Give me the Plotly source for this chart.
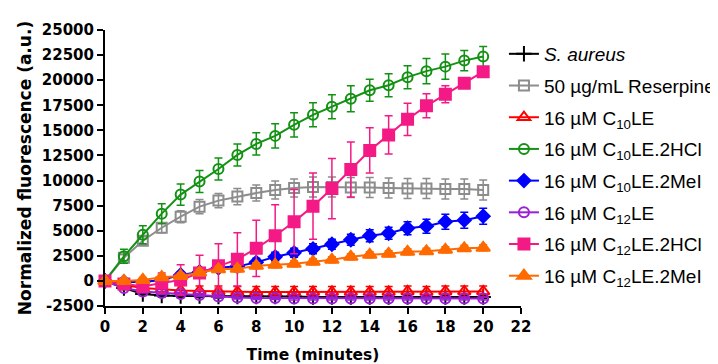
import plotly.graph_objects as go

time_min = list(range(21))
x_ticks = list(range(0, 23, 2))
y_ticks = list(range(-2500, 25001, 2500))
y_tick_labels = [str(v) for v in y_ticks]

names = [
    "<i>S. aureus</i>",
    "50 µg/mL Reserpine",
    "16 µM C<sub>10</sub>LE",
    "16 µM C<sub>10</sub>LE.2HCl",
    "16 µM C<sub>10</sub>LE.2MeI",
    "16 µM C<sub>12</sub>LE",
    "16 µM C<sub>12</sub>LE.2HCl",
    "16 µM C<sub>12</sub>LE.2MeI",
]

s_aureus = [0, -700, -1300, -1450, -1500, -1500, -1550, -1550, -1550, -1550, -1550,
            -1600, -1600, -1600, -1600, -1600, -1600, -1600, -1600, -1600, -1600]
s_aureus_err = [0, 150, 150, 150, 150, 150, 150, 150, 150, 150, 150,
                150, 150, 150, 150, 150, 150, 150, 150, 150, 150]

reserpine = [0, 2300, 4000, 5300, 6400, 7400, 8000, 8400, 8750, 9050, 9250,
             9350, 9350, 9300, 9300, 9250, 9200, 9200, 9150, 9150, 9050]
reserpine_err = [0, 300, 400, 500, 600, 700, 700, 800, 800, 900, 900,
                 1000, 1000, 1000, 1000, 1000, 1000, 1000, 1000, 1000, 1000]

c10le = [0, -400, -700, -850, -950, -1000, -1050, -1100, -1100, -1100, -1100,
         -1100, -1100, -1100, -1100, -1100, -1050, -1100, -1050, -1050, -1050]
c10le_err = [0, 300, 400, 450, 500, 500, 550, 550, 550, 550, 550,
             550, 550, 550, 550, 550, 550, 550, 550, 550, 550]

c10le_hcl = [0, 2450, 4600, 6700, 8600, 9900, 11150, 12550, 13650, 14450, 15550,
             16550, 17350, 18150, 19000, 19500, 20300, 20900, 21350, 21950, 22350]
c10le_hcl_err = [0, 700, 900, 1000, 1050, 1100, 1100, 1100, 1100, 1200, 1200,
                 1200, 1200, 1300, 1100, 1150, 1150, 1250, 1250, 1000, 1000]

c10le_mei = [0, -100, -100, 100, 600, 900, 1300, 1450, 1850, 2400, 2800,
             3200, 3650, 4100, 4500, 4750, 5250, 5450, 5900, 6050, 6450]
c10le_mei_err = [0, 100, 150, 200, 250, 300, 350, 400, 400, 450, 450,
                 500, 500, 550, 600, 600, 650, 700, 750, 800, 800]

c12le = [0, -700, -1050, -1200, -1300, -1400, -1550, -1650, -1700, -1700, -1750,
         -1750, -1750, -1750, -1750, -1750, -1750, -1750, -1750, -1750, -1750]
c12le_err = [0, 150, 150, 150, 150, 150, 150, 150, 150, 150, 150,
             150, 150, 150, 150, 150, 150, 150, 150, 150, 150]

c12le_hcl = [0, -300, -550, -200, 100, 800, 1500, 2150, 3250, 4500, 5900,
             7450, 9200, 11100, 13000, 14550, 16100, 17450, 18600, 19700, 20850]
c12le_hcl_err = [0, 300, 500, 1000, 1500, 1750, 2200, 2650, 2800, 3100, 3200,
                 3300, 3000, 2750, 2250, 1900, 1600, 1200, 850, 300, 300]

c12le_mei = [0, 0, 100, 370, 500, 830, 1160, 1200, 1500, 1600, 1700,
             1900, 2100, 2400, 2600, 2700, 2900, 2950, 3100, 3250, 3300]
c12le_mei_err = [0, 200, 250, 250, 300, 300, 300, 300, 300, 300, 300,
                 300, 300, 300, 300, 300, 300, 300, 300, 300, 300]

series = [s_aureus, reserpine, c10le, c10le_hcl, c10le_mei, c12le, c12le_hcl, c12le_mei]
errors = [s_aureus_err, reserpine_err, c10le_err, c10le_hcl_err, c10le_mei_err,
          c12le_err, c12le_hcl_err, c12le_mei_err]
colors = ["#000000", "#8c8c8c", "#ff0000", "#139113", "#0000ff", "#9b1fd6", "#f41a86", "#ff6a00"]
symbols = ["cross-thin-open", "square-open", "triangle-up-open", "circle-open",
           "diamond", "circle-open", "square", "triangle-up"]
sizes = [11, 10, 11, 10, 10, 10, 11, 12]

fig = go.Figure()
for i in range(len(series)):
    fig.add_trace(go.Scatter(
        x=time_min, y=series[i], name=names[i],
        mode="lines+markers",
        line=dict(color=colors[i], width=2),
        marker=dict(symbol=symbols[i], size=sizes[i], color=colors[i],
                    line=dict(color=colors[i], width=2)),
        error_y=dict(type="data", array=errors[i], visible=True,
                     color=colors[i], thickness=1.5, width=4),
        cliponaxis=False,
        legendgroup="g%d" % i,
    ))

axis_font = dict(family="DejaVu Sans", size=15, color="black", weight="bold")
xtitle_font = dict(family="DejaVu Sans", size=15.5, color="black", weight="bold")
ytitle_font = dict(family="DejaVu Sans", size=17, color="black", weight="bold")
fig.update_layout(
    width=710, height=356,
    margin=dict(l=97, r=197, t=22, b=58, autoexpand=False),
    plot_bgcolor="white", paper_bgcolor="white",
    showlegend=True,
    legend=dict(x=0.959, y=0.982, xanchor="left", yanchor="top",
                font=dict(family="Liberation Sans", size=19, color="black"),
                tracegroupgap=4, bgcolor="rgba(0,0,0,0)", maxheight=356),
    xaxis=dict(range=[0, 22], tickmode="array", tickvals=x_ticks,
               ticktext=[str(v) for v in x_ticks],
               showline=True, linecolor="black", linewidth=2,
               ticks="outside", ticklen=6, tickwidth=2, tickcolor="black",
               showgrid=False, zeroline=False, tickfont=axis_font, automargin=False,
               title=dict(text="Time (minutes)", font=xtitle_font, standoff=14)),
    yaxis=dict(range=[-2500, 25000], tickmode="array",
               tickvals=y_ticks, ticktext=y_tick_labels,
               showline=True, linecolor="black", linewidth=2,
               ticks="outside", ticklen=6, tickwidth=2, tickcolor="black",
               showgrid=False, zeroline=False, tickfont=axis_font, automargin=False,
               title=dict(text="Normalized fluorescence (a.u.)", font=ytitle_font, standoff=6)),
)

fig.write_html("out.html")
